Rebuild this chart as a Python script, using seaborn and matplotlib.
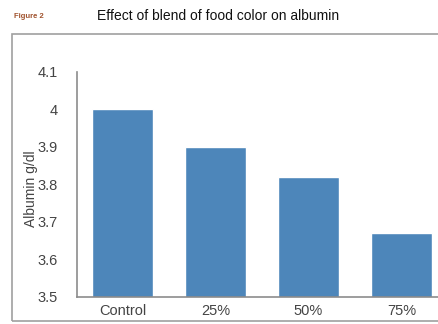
import matplotlib
matplotlib.use("Agg")
import matplotlib.pyplot as plt
import seaborn as sns
import pandas as pd
from matplotlib.patches import Rectangle

# Data
groups = ["Control", "25%", "50%", "75%"]
albumin = [4.0, 3.9, 3.82, 3.67]
yticks = [3.5, 3.6, 3.7, 3.8, 3.9, 4.0, 4.1]

df = pd.DataFrame({"group": groups, "albumin": albumin})

sns.set_style("white")
plt.rcParams["font.family"] = ["Liberation Sans", "DejaVu Sans"]

fig = plt.figure(figsize=(4.39, 3.24), dpi=100)

# grey frame around the chart area
fig.patches.append(Rectangle((12 / 439, 3 / 324), 440 / 439, 287 / 324,
                             transform=fig.transFigure, fill=False,
                             edgecolor="#a0a0a0", linewidth=1.2))

ax = fig.add_axes([77 / 439, 27 / 324, 371 / 439, 225 / 324])
sns.barplot(data=df, x="group", y="albumin", color="#4D86BA", width=0.65,
            saturation=1, ax=ax)

ax.set_ylim(3.5, 4.1)
ax.set_xlim(-0.49, 3.5)
ax.set_yticks(yticks)
ax.set_yticklabels([f"{v:g}" for v in yticks])
ax.tick_params(axis="y", length=0, pad=14, labelsize=10.5, labelcolor="#444444")
ax.tick_params(axis="x", length=0, pad=5, labelsize=10.5, labelcolor="#444444")
ax.set_xlabel("")
ax.set_ylabel("Albumin g/dl", fontsize=10, color="#444444")
ax.yaxis.set_label_coords(-0.105, 0.48)

for side in ["top", "right"]:
    ax.spines[side].set_visible(False)
for side in ["left", "bottom"]:
    ax.spines[side].set_color("#8c8c8c")
    ax.spines[side].set_linewidth(1.2)

fig.text(14 / 439, 1 - 17 / 324, "Figure 2", fontsize=5.5, color="#a0522d",
         fontweight="bold", va="center")
fig.text(97 / 439, 1 - 16 / 324, "Effect of blend of food color on albumin",
         fontsize=10, color="#111111", va="center")

fig.savefig("out.png", dpi=100)
